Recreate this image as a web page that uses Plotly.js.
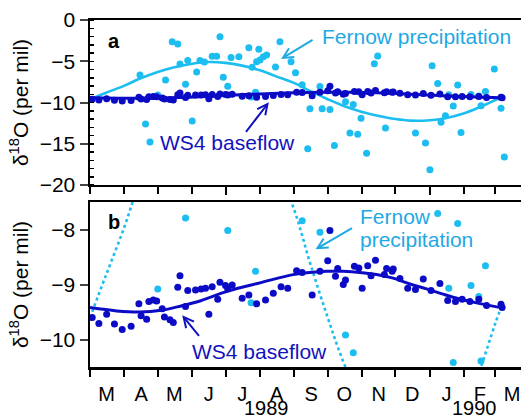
<!DOCTYPE html>
<html>
<head>
<meta charset="utf-8">
<script src="https://cdn.plot.ly/plotly-3.0.1.min.js"></script>
<style>
  html, body { margin: 0; padding: 0; background: #fff; }
  #chart { width: 521px; height: 420px; }
</style>
</head>
<body>
<div id="chart"></div>
<script>
// Fernow precipitation samples (delta 18O, per mil)
const precipDates = [
  '1989-04-15','1989-04-20','1989-04-24','1989-05-01','1989-05-08','1989-05-14','1989-05-19','1989-05-21',
  '1989-05-26','1989-05-28','1989-06-01','1989-06-05','1989-06-08','1989-06-12','1989-06-19','1989-06-23',
  '1989-06-26','1989-06-29','1989-07-03','1989-07-06','1989-07-13','1989-07-22','1989-07-24','1989-07-25',
  '1989-07-28','1989-07-29','1989-07-31','1989-08-01','1989-08-04','1989-08-07','1989-08-15','1989-08-19',
  '1989-08-29','1989-09-02','1989-09-08','1989-09-13','1989-09-15','1989-09-24','1989-09-26','1989-10-03',
  '1989-10-07','1989-10-17','1989-10-21','1989-10-24','1989-10-28','1989-10-31','1989-11-05','1989-11-12',
  '1989-11-15','1989-11-22','1989-12-19','1989-12-28','1990-01-01','1990-01-03','1990-01-08','1990-01-11',
  '1990-01-15','1990-01-18','1990-01-22','1990-01-26','1990-01-29','1990-02-07','1990-02-14','1990-02-16',
  '1990-02-20','1990-02-28','1990-03-06','1990-03-09'
];
const precipValues = [
  -6.67, -12.6, -14.8, -9.08, -7.27, -2.63, -2.91, -5.33,
  -7.79, -4.9, -12.24, -6.3, -4.9, -5.1, -4.4, -4.4,
  -2.02, -6.95, -8.02, -4.55, -4.44, -3.35, -9.33, -5.74,
  -8.76, -5.05, -3.56, -4.85, -4.44, -4.24, -5.7, -2.65,
  -5.05, -6.38, -7.84, -15.6, -10.75, -8.05, -10.75, -10.85,
  -15.2, -9.92, -13.7, -10.24, -13.85, -11.9, -16.15, -5.3,
  -4.36, -13.1, -13.7, -14.9, -18.15, -5.54, -7.71, -12.4,
  -11.6, -9.07, -10.42, -7.89, -13.65, -9.02, -9.22, -10.39,
  -8.66, -5.94, -10.7, -16.6
];

// WS4 baseflow samples
const baseflowDates = [
  '1989-03-03','1989-03-09','1989-03-16','1989-03-23','1989-03-30',
  '1989-04-07','1989-04-14','1989-04-16','1989-04-21','1989-04-23','1989-04-27','1989-04-30',
  '1989-05-05','1989-05-07','1989-05-12','1989-05-15','1989-05-19','1989-05-21','1989-05-26','1989-05-28',
  '1989-06-04','1989-06-09','1989-06-13','1989-06-16','1989-06-19','1989-06-24','1989-06-26',
  '1989-07-01','1989-07-03','1989-07-07','1989-07-16','1989-07-22','1989-07-29',
  '1989-08-06','1989-08-13','1989-08-20','1989-08-26',
  '1989-09-03','1989-09-08','1989-09-17','1989-09-24',
  '1989-10-01','1989-10-03','1989-10-08','1989-10-10','1989-10-15','1989-10-17','1989-10-25','1989-10-29',
  '1989-11-01','1989-11-06','1989-11-09','1989-11-13','1989-11-21','1989-11-23','1989-11-28','1989-11-29',
  '1989-12-05','1989-12-12','1989-12-19','1989-12-26',
  '1990-01-02','1990-01-10','1990-01-17','1990-01-24','1990-01-30',
  '1990-02-06','1990-02-14','1990-02-21',
  '1990-03-06','1990-03-07'
];
const baseflowValues = [
  -9.60, -9.71, -9.54, -9.72, -9.82,
  -9.76, -9.35, -9.57, -9.63, -9.31, -9.28, -9.30,
  -9.44, -9.59, -9.64, -9.69, -9.05, -8.84, -9.40, -9.11,
  -9.10, -9.08, -9.07, -9.54, -9.04, -9.27, -8.96,
  -9.02, -9.08, -9.01, -9.25, -9.19, -9.35,
  -9.28, -9.16, -9.04, -9.07,
  -8.75, -8.78, -9.19, -8.76,
  -8.57, -8.02, -8.85, -8.71, -9.00, -8.92, -8.67, -8.70,
  -9.07, -8.66, -8.84, -8.56, -8.82, -8.71, -8.76, -8.72,
  -8.89, -9.07, -9.09, -8.90,
  -9.11, -8.98, -9.29, -9.31, -9.27,
  -9.31, -9.27, -9.38,
  -9.36, -9.42
];

// Seasonal fit through the precipitation samples
const precipFitDates = [
  '1989-03-01','1989-03-15','1989-04-01','1989-04-15','1989-05-01','1989-05-15','1989-06-01','1989-06-15',
  '1989-07-01','1989-07-15','1989-08-01','1989-08-15','1989-09-01','1989-09-15','1989-10-01','1989-10-15',
  '1989-11-01','1989-11-15','1989-12-01','1989-12-15','1990-01-01','1990-01-15','1990-02-01','1990-02-15',
  '1990-03-01','1990-03-07'
];
const precipFitValues = [
  -9.6, -8.85, -7.95, -7.1, -6.3, -5.75, -5.3, -5.1,
  -5.2, -5.5, -6.1, -6.8, -7.65, -8.6, -9.6, -10.4,
  -11.15, -11.6, -12.0, -12.2, -12.15, -11.9, -11.3, -10.55,
  -9.7, -9.36
];

// Seasonal fit through the baseflow samples
const baseflowFitDates = [
  '1989-03-01','1989-03-25','1989-04-15','1989-05-04','1989-05-22','1989-06-08','1989-07-03','1989-08-01',
  '1989-08-31','1989-09-15','1989-09-30','1989-10-15','1989-10-30','1989-11-14','1989-11-28','1989-12-14',
  '1989-12-29','1990-01-12','1990-01-27','1990-02-11','1990-03-06'
];
const baseflowFitValues = [
  -9.42, -9.48, -9.50, -9.47, -9.39, -9.30, -9.12, -8.97,
  -8.82, -8.78, -8.76, -8.76, -8.78, -8.82, -8.88, -8.99,
  -9.08, -9.17, -9.26, -9.33, -9.42
];

// Month ticks and labels
const monthStarts = [
  '1989-03-01','1989-04-01','1989-05-01','1989-06-01','1989-07-01','1989-08-01','1989-09-01',
  '1989-10-01','1989-11-01','1989-12-01','1990-01-01','1990-02-01','1990-03-01'
];
const monthMids = [
  '1989-03-16','1989-04-16','1989-05-16','1989-06-16','1989-07-16','1989-08-16','1989-09-16',
  '1989-10-16','1989-11-16','1989-12-16','1990-01-16','1990-02-15','1990-03-16'
];
const monthLabels = ['M','A','M','J','J','A','S','O','N','D','J','F','M'];
const halfYearTicks = ['1989-07-01','1990-01-01'];
const yearLabels = ['1989','1990'];
const yearLabelDates = ['1989-08-07','1990-02-10'];

const LIGHT = '#1cbdf0';
const LIGHT_TEXT = '#1fa9e4';
const DARK = '#0b0bc6';
const DARK_TEXT = '#1212bd';
const FONT = 'Liberation Sans, Arial, Helvetica, sans-serif';
const xRange = ['1989-03-01', '1990-03-24'];

function panelTraces(xa, ya, precipDash) {
  return [
    { x: precipFitDates, y: precipFitValues, xaxis: xa, yaxis: ya, type: 'scatter', mode: 'lines',
      line: { color: LIGHT, width: 2.6, shape: 'spline', dash: precipDash }, hoverinfo: 'skip' },
    { x: precipDates, y: precipValues, xaxis: xa, yaxis: ya, type: 'scatter', mode: 'markers',
      marker: { color: LIGHT, size: 7 } },
    { x: baseflowDates, y: baseflowValues, xaxis: xa, yaxis: ya, type: 'scatter', mode: 'markers',
      marker: { color: DARK, size: 7 } },
    { x: baseflowFitDates, y: baseflowFitValues, xaxis: xa, yaxis: ya, type: 'scatter', mode: 'lines',
      line: { color: DARK, width: 3, shape: 'spline' }, hoverinfo: 'skip' }
  ];
}

const traces = [
  ...panelTraces('x', 'y', 'solid'),
  ...panelTraces('x2', 'y2', 'dot'),
  // carriers for the half-year tick axes
  { x: [], y: [], xaxis: 'x3', yaxis: 'y', type: 'scatter', mode: 'markers', hoverinfo: 'skip' },
  { x: [], y: [], xaxis: 'x4', yaxis: 'y2', type: 'scatter', mode: 'markers', hoverinfo: 'skip' }
];

function monthAxis(anchor, showLabels) {
  return {
    type: 'date', range: xRange, anchor: anchor,
    showline: true, linecolor: 'black', linewidth: 2.5, mirror: true,
    showgrid: false, zeroline: false,
    tickmode: 'array', tickvals: monthMids, ticktext: monthLabels,
    ticks: '', showticklabels: showLabels, ticklabelstandoff: 7,
    tickfont: { size: 20, color: 'black', family: FONT },
    minor: { tickmode: 'array', tickvals: monthStarts, ticks: 'outside', ticklen: 7,
             tickwidth: 2, tickcolor: 'black', showgrid: false }
  };
}

function halfYearAxis(over, anchor) {
  return {
    type: 'date', range: xRange, overlaying: over, anchor: anchor, side: 'bottom',
    showline: false, showgrid: false, zeroline: false,
    tickmode: 'array', tickvals: halfYearTicks, ticks: 'outside', ticklen: 9,
    tickwidth: 2, tickcolor: 'black', showticklabels: false
  };
}

const yTitle = { text: '\u03b4<sup>18</sup>O (per mil)', font: { size: 21, color: 'black', family: FONT }, standoff: 6 };

const annFont = (c) => ({ size: 21, color: c, family: FONT });

const annotations = [
  // panel a
  { xref: 'x', yref: 'y', x: '1989-03-23', y: -2.55, text: '<b>a</b>', showarrow: false,
    font: { size: 20, color: 'black', family: FONT } },
  { xref: 'x', yref: 'y', x: '1989-09-24', y: -1.94, text: 'Fernow precipitation', showarrow: false,
    xanchor: 'left', yanchor: 'middle', font: annFont(LIGHT_TEXT) },
  { xref: 'x', yref: 'y', x: '1989-08-20', y: -4.73, text: '', showarrow: true, ax: 33, ay: -20,
    arrowhead: 5, arrowsize: 1, arrowwidth: 2, arrowcolor: LIGHT_TEXT },
  { xref: 'x', yref: 'y', x: '1989-05-01', y: -14.9, text: 'WS4 baseflow', showarrow: false,
    xanchor: 'left', yanchor: 'middle', font: annFont(DARK_TEXT) },
  { xref: 'x', yref: 'y', x: '1989-08-09', y: -9.98, text: '', showarrow: true, ax: -24, ay: 31,
    arrowhead: 5, arrowsize: 1, arrowwidth: 2, arrowcolor: DARK_TEXT },
  // panel b
  { xref: 'x2', yref: 'y2', x: '1989-03-23', y: -7.87, text: '<b>b</b>', showarrow: false,
    font: { size: 20, color: 'black', family: FONT } },
  { xref: 'x2', yref: 'y2', x: '1989-10-28', y: -7.76, text: 'Fernow', showarrow: false,
    xanchor: 'left', yanchor: 'middle', font: annFont(LIGHT_TEXT) },
  { xref: 'x2', yref: 'y2', x: '1989-10-28', y: -8.18, text: 'precipitation', showarrow: false,
    xanchor: 'left', yanchor: 'middle', font: annFont(LIGHT_TEXT) },
  { xref: 'x2', yref: 'y2', x: '1989-09-20', y: -8.36, text: '', showarrow: true, ax: 38, ay: -22,
    arrowhead: 5, arrowsize: 1, arrowwidth: 2, arrowcolor: LIGHT_TEXT },
  { xref: 'x2', yref: 'y2', x: '1989-05-30', y: -10.22, text: 'WS4 baseflow', showarrow: false,
    xanchor: 'left', yanchor: 'middle', font: annFont(DARK_TEXT) },
  { xref: 'x2', yref: 'y2', x: '1989-05-23', y: -9.56, text: '', showarrow: true, ax: 18, ay: 22,
    arrowhead: 5, arrowsize: 1, arrowwidth: 2, arrowcolor: DARK_TEXT }
];

// year labels beneath the month letters, resting on the bottom edge
yearLabels.forEach((t, i) => {
  annotations.push({ xref: 'x2', yref: 'paper', x: yearLabelDates[i], y: 0, yshift: -53,
    text: t, showarrow: false, yanchor: 'bottom', borderpad: 0,
    font: { size: 20, color: 'black', family: FONT } });
});

const layout = {
  width: 521, height: 420,
  margin: { l: 90, r: 0, t: 20, b: 53, pad: 0 },
  paper_bgcolor: 'white', plot_bgcolor: 'white',
  showlegend: false,
  font: { family: FONT, color: 'black' },
  xaxis: monthAxis('y', false),
  xaxis2: monthAxis('y2', true),
  xaxis3: halfYearAxis('x', 'y'),
  xaxis4: halfYearAxis('x2', 'y2'),
  yaxis: {
    domain: [0.5245, 1], range: [-20, 0], anchor: 'x',
    showline: true, linecolor: 'black', linewidth: 2.5, showgrid: false, zeroline: false,
    tickmode: 'linear', tick0: 0, dtick: 5, ticks: 'outside', ticklen: 8, tickwidth: 2,
    tickfont: { size: 21, color: 'black', family: FONT }, ticklabelstandoff: 0,
    minor: { dtick: 1, ticks: 'inside', ticklen: 4, tickwidth: 1.5, tickcolor: 'black', showgrid: false },
    title: yTitle
  },
  yaxis2: {
    domain: [0, 0.4755], range: [-10.5, -7.5], anchor: 'x2',
    showline: true, linecolor: 'black', linewidth: 2.5, showgrid: false, zeroline: false,
    tickmode: 'linear', tick0: -10, dtick: 1, ticks: 'outside', ticklen: 8, tickwidth: 2,
    tickfont: { size: 21, color: 'black', family: FONT }, ticklabelstandoff: 0,
    title: yTitle
  },
  annotations: annotations
};

Plotly.newPlot('chart', traces, layout, { staticPlot: true, displayModeBar: false });
</script>
</body>
</html>
